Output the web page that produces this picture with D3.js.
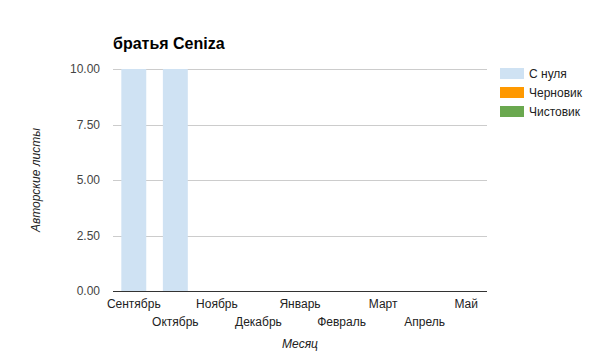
<!DOCTYPE html>
<html lang="ru">
<head>
<meta charset="UTF-8">
<title>братья Ceniza</title>
<style>
  body { margin: 0; background: #fff; }
  svg { font-family: Arial, "Liberation Sans", sans-serif; }
  .grid line { stroke: #ccc; stroke-width: 1; }
  .tick-label { font-size: 12px; fill: #222; }
</style>
</head>
<body>
<svg></svg>
<script src="https://d3js.org/d3.v7.min.js"></script>
<script>
  let months = ['Сентябрь', 'Октябрь', 'Ноябрь', 'Декабрь', 'Январь', 'Февраль', 'Март', 'Апрель', 'Май'];
  let fromScratch = [10, 10, 0, 0, 0, 0, 0, 0, 0];
  let draft = [0, 0, 0, 0, 0, 0, 0, 0, 0];
  let clean = [0, 0, 0, 0, 0, 0, 0, 0, 0];
  let seriesNames = ['С нуля', 'Черновик', 'Чистовик'];
  let seriesColors = ['#cfe2f3', '#ff9900', '#6aa84f'];
  let yTicks = [0, 2.5, 5, 7.5, 10];

  let width = 600, height = 361;
  let plotLeft = 113, plotRight = 487, plotTop = 69, plotBottom = 291;

  let svg = d3.select('svg').attr('width', width).attr('height', height);

  let x = d3.scaleBand().domain(months).range([plotLeft, plotRight]).paddingInner(0.4).paddingOuter(0.2);
  let y = d3.scaleLinear().domain([0, 10]).range([plotBottom, plotTop]);

  // title
  svg.append('text')
    .attr('x', plotLeft).attr('y', 49)
    .style('font-size', '16px').style('font-weight', 'bold')
    .text('братья Ceniza');

  // gridlines
  svg.append('g').attr('class', 'grid')
    .selectAll('line').data(yTicks.filter(d => d > 0)).enter()
    .append('line')
    .attr('x1', plotLeft).attr('x2', plotRight)
    .attr('y1', d => Math.round(y(d)) + 0.5).attr('y2', d => Math.round(y(d)) + 0.5);

  // y labels
  svg.append('g').selectAll('text').data(yTicks).enter()
    .append('text')
    .attr('class', 'tick-label')
    .attr('x', plotLeft - 13).attr('y', d => y(d) + 4)
    .attr('text-anchor', 'end')
    .style('fill', '#444')
    .text(d => d.toFixed(2));

  // stacked bars
  let rows = months.map((m, i) => ({ month: m, s0: fromScratch[i], s1: draft[i], s2: clean[i] }));
  let stack = d3.stack().keys(['s0', 's1', 's2'])(rows);

  svg.append('g').selectAll('g').data(stack).enter()
    .append('g').attr('fill', (d, i) => seriesColors[i])
    .selectAll('rect').data(d => d).enter()
    .append('rect')
    .attr('x', d => x(d.data.month))
    .attr('width', x.bandwidth())
    .attr('y', d => y(d[1]))
    .attr('height', d => y(d[0]) - y(d[1]));

  // baseline
  svg.append('line')
    .attr('x1', plotLeft).attr('x2', plotRight)
    .attr('y1', plotBottom + 0.5).attr('y2', plotBottom + 0.5)
    .attr('stroke', '#333');

  // x labels, alternating rows
  svg.append('g').selectAll('text').data(months).enter()
    .append('text')
    .attr('class', 'tick-label')
    .attr('x', d => x(d) + x.bandwidth() / 2)
    .attr('y', (d, i) => i % 2 === 0 ? 308 : 326)
    .attr('text-anchor', 'middle')
    .text(d => d);

  // axis titles
  svg.append('text')
    .attr('x', (plotLeft + plotRight) / 2).attr('y', 348)
    .attr('text-anchor', 'middle')
    .style('font-size', '12px').style('font-style', 'italic').style('fill', '#222')
    .text('Месяц');

  svg.append('text')
    .attr('transform', `translate(40,${(plotTop + plotBottom) / 2}) rotate(-90)`)
    .attr('text-anchor', 'middle')
    .style('font-size', '12px').style('font-style', 'italic').style('fill', '#222')
    .text('Авторские листы');

  // legend
  let legend = svg.append('g').selectAll('g').data(seriesNames).enter()
    .append('g')
    .attr('transform', (d, i) => `translate(500,${68 + i * 19})`);

  legend.append('rect')
    .attr('width', 24).attr('height', 11)
    .attr('fill', (d, i) => seriesColors[i]);

  legend.append('text')
    .attr('class', 'tick-label')
    .attr('x', 29).attr('y', 10)
    .text(d => d);
</script>
</body>
</html>
